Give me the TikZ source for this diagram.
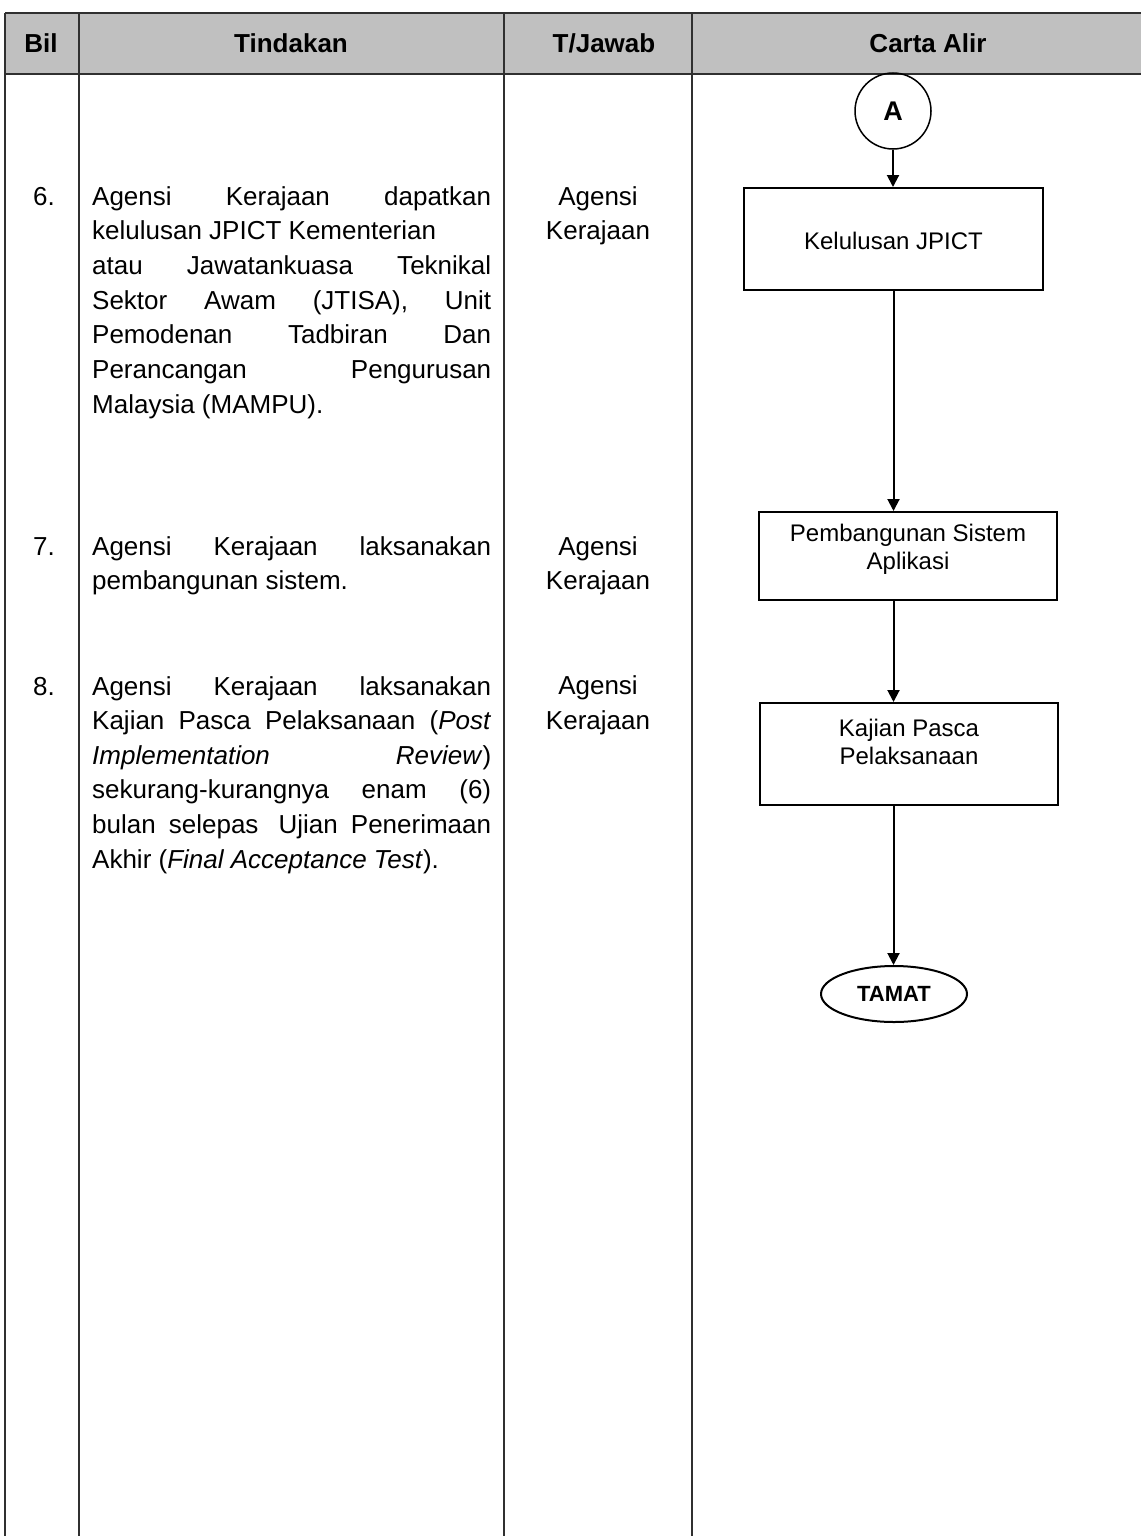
\documentclass[tikz,border=0pt]{standalone}
\usepackage{fontspec}
\setmainfont{Liberation Sans}
\usetikzlibrary{arrows.meta,shapes.geometric}
\definecolor{hdrgray}{RGB}{192,192,192}
\definecolor{rule}{RGB}{48,48,48}
\begin{document}
\begin{tikzpicture}[x=1pt,y=-1pt,
  body/.style={font=\fontsize{26}{30}\selectfont, inner sep=0pt},
  txtline/.style={body, anchor=base west},
  ctrline/.style={body, anchor=base},
  headtxt/.style={font=\fontsize{26}{30}\selectfont\bfseries, inner sep=0pt, anchor=base},
  tablerule/.style={draw=rule, line width=2pt},
  flowbox/.style={draw=black, line width=2pt, rectangle, inner sep=0pt},
  boxtext/.style={font=\fontsize{24}{28}\selectfont, align=center, inner sep=0pt},
  flowarrow/.style={draw=black, line width=2pt, -{Triangle[length=12pt,width=12pt]}},
]
\useasboundingbox (0,0) rectangle (1141,1536);
\fill[white] (0,0) rectangle (1141,1536);

% header band
\fill[hdrgray] (5,13) rectangle (1141,74);

% table rules
\draw[tablerule] (5,13) -- (1141,13);
\draw[tablerule] (5,74) -- (1141,74);
\draw[tablerule] (5,13) -- (5,1536);
\draw[tablerule] (79,13) -- (79,1536);
\draw[tablerule] (504,13) -- (504,1536);
\draw[tablerule] (692,13) -- (692,1536);

% header titles
\node[headtxt] (hBil) at (41,53) {Bil};
\node[headtxt] (hTin) at (291,53) {Tindakan};
\node[headtxt] (hTJ) at (604,53) {T/Jawab};
\node[headtxt] (hCA) at (928,53) {Carta Alir};

% row numbers
\node[txtline] (n6) at (33,205) {6.};
\node[txtline] (n7) at (33,555) {7.};
\node[txtline] (n8) at (33,695) {8.};

% step 6 text
\node[txtline] (t6a) at (92,205)   {\makebox[399pt][s]{Agensi Kerajaan dapatkan}};
\node[txtline] (t6b) at (92,239.7) {kelulusan JPICT Kementerian};
\node[txtline] (t6c) at (92,274.3) {\makebox[399pt][s]{atau Jawatankuasa Teknikal}};
\node[txtline] (t6d) at (92,309)   {\makebox[399pt][s]{Sektor Awam (JTISA), Unit}};
\node[txtline] (t6e) at (92,343.7) {\makebox[399pt][s]{Pemodenan Tadbiran Dan}};
\node[txtline] (t6f) at (92,378.3) {\makebox[399pt][s]{Perancangan Pengurusan}};
\node[txtline] (t6g) at (92,413)   {Malaysia (MAMPU).};

% step 7 text
\node[txtline] (t7a) at (92,555)   {\makebox[399pt][s]{Agensi Kerajaan laksanakan}};
\node[txtline] (t7b) at (92,589.5) {pembangunan sistem.};

% step 8 text
\node[txtline] (t8a) at (92,695)   {\makebox[399pt][s]{Agensi Kerajaan laksanakan}};
\node[txtline] (t8b) at (92,729.6) {\makebox[399pt][s]{Kajian Pasca Pelaksanaan (\textit{Post}}};
\node[txtline] (t8c) at (92,764.2) {\makebox[399pt][s]{\textit{Implementation} \textit{Review})}};
\node[txtline] (t8d) at (92,798.8) {\makebox[399pt][s]{sekurang-kurangnya enam (6)}};
\node[txtline] (t8e) at (92,833.4) {\makebox[399pt][s]{bulan selepas\hspace{7pt} Ujian Penerimaan}};
\node[txtline] (t8f) at (92,868)   {Akhir (\textit{Final Acceptance Test}).};

% responsibility column
\node[ctrline] (r6a) at (598,205) {Agensi};
\node[ctrline] (r6b) at (598,239) {Kerajaan};
\node[ctrline] (r7a) at (598,555) {Agensi};
\node[ctrline] (r7b) at (598,589) {Kerajaan};
\node[ctrline] (r8a) at (598,694) {Agensi};
\node[ctrline] (r8b) at (598,729) {Kerajaan};

% flow chart
\node[draw=black, line width=1.5pt, circle, minimum size=76pt, inner sep=0pt,
      font=\fontsize{27}{30}\selectfont\bfseries] (conA) at (893,111) {A};

\node[flowbox, minimum width=299pt, minimum height=102pt] (b1) at (893.5,239) {};
\node[boxtext] (b1t) at (893.5,241) {Kelulusan JPICT};

\node[flowbox, minimum width=298pt, minimum height=88pt] (b2) at (908,556) {};
\node[boxtext] (b2t) at (908,549) {Pembangunan Sistem\\Aplikasi};

\node[flowbox, minimum width=298pt, minimum height=102pt] (b3) at (909,754) {};
\node[boxtext] (b3t) at (909,741.5) {Kajian Pasca\\Pelaksanaan};

\node[draw=black, line width=2pt, ellipse, minimum width=146pt, minimum height=56pt,
      inner sep=0pt, font=\fontsize{22}{24}\selectfont\bfseries] (end) at (894,994) {TAMAT};

\draw[flowarrow] (conA.south) -- (conA.south |- b1.north);
\draw[flowarrow] (b1.south) -- (b1.south |- b2.north);
\draw[flowarrow] (b1.south |- b2.south) -- (b1.south |- b3.north);
\draw[flowarrow] (b1.south |- b3.south) -- (b1.south |- end.north);
\end{tikzpicture}
\end{document}
